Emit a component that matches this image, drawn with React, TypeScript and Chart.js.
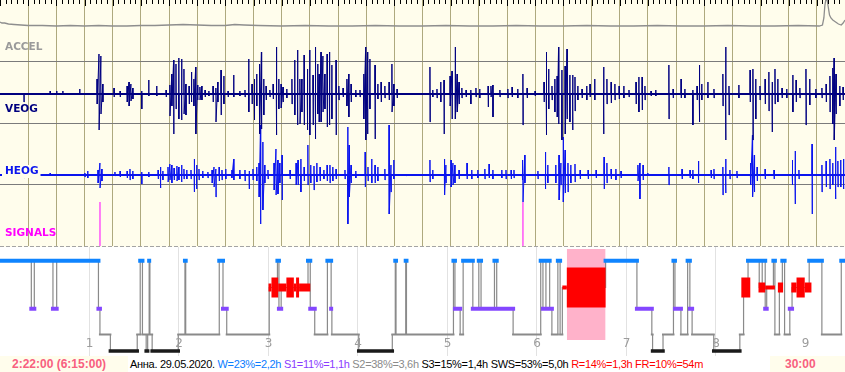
import React, { useEffect, useRef } from "react";
import { Chart, registerables } from "chart.js";

Chart.register(...registerables);

// ---------------- signal window (30 min, seconds) ----------------
const WINDOW_SEC = 1800;
const channelNames = ["ACCEL", "VEOG", "HEOG", "SIGNALS"];

// ACCEL trace: [second, amplitude]
const accelTrace: [number, number][] = [
  [0, 4], [4, 3], [10, 3], [18, 2], [30, 1.5], [45, 1], [60, 0.5], [90, 0.5], [120, 0], [150, 0.5],
  [180, 0], [210, 0.5], [240, 0], [270, 0], [300, 0.5], [330, 0.5], [360, 1], [390, 1.5], [420, 1],
  [450, 0.5], [480, 0.5], [500, 1.5], [520, 1], [550, 0.5], [600, 0], [650, 0.5], [700, 0], [750, 0],
  [800, 0.5], [850, 0], [900, 0], [950, 0.5], [1000, 0], [1050, 0], [1100, 0.5], [1150, 0], [1200, 0],
  [1250, 0.5], [1300, 0], [1350, 0], [1400, 0.5], [1450, 0], [1500, 0], [1550, 0.5], [1600, 0],
  [1650, 0], [1700, 0.5], [1745, 0], [1752, 1], [1755, 8], [1757, 20], [1759, 26], [1762, 26],
  [1764, 20], [1767, 11], [1770, 8], [1774, 6], [1780, 4], [1786, 2], [1792, 1], [1796, 3], [1800, 6],
];

// VEOG spikes: [second, up, down]
const veogSpikes: [number, number, number][] = [
  [51, 1, 8], [107, 3, 1], [121, 3, 0], [134, 3, 0], [170, 5, 1], [207, 15, 10], [211, 40, 36], [215, 38, 20],
  [219, 10, 8], [243, 6, 3], [256, 3, 3], [271, 8, 8], [275, 12, 12], [279, 10, 7], [283, 6, 5], [302, 3, 15],
  [317, 14, 2], [334, 8, 2], [354, 4, 3], [362, 9, 22], [366, 20, 12], [370, 34, 40], [375, 30, 15], [381, 36, 25],
  [387, 35, 26], [392, 25, 20], [396, 10, 21], [403, 8, 10], [408, 22, 8], [413, 15, 12], [417, 27, 40], [421, 9, 6],
  [426, 7, 6], [430, 8, 6], [437, 4, 3], [445, 3, 2], [454, 8, 8], [460, 6, 28], [464, 12, 8], [471, 24, 21],
  [477, 18, 10], [486, 3, 3], [498, 19, 3], [511, 3, 2], [522, 4, 3], [530, 35, 18], [537, 10, 10], [542, 15, 26],
  [547, 20, 12], [553, 30, 40], [557, 42, 35], [562, 15, 21], [567, 8, 6], [575, 4, 3], [582, 10, 5], [589, 47, 41],
  [594, 15, 15], [599, 10, 14], [603, 7, 8], [611, 5, 4], [622, 15, 10], [628, 34, 21], [634, 44, 31], [639, 15, 30],
  [643, 15, 18], [648, 39, 31], [655, 25, 36], [660, 44, 41], [667, 19, 31], [672, 47, 45], [677, 30, 20], [680, 20, 28],
  [684, 42, 28], [688, 38, 18], [692, 20, 15], [697, 40, 33], [702, 42, 31], [707, 29, 25], [716, 34, 41], [722, 8, 6],
  [731, 6, 3], [739, 15, 12], [743, 20, 23], [748, 10, 8], [758, 4, 3], [767, 4, 3], [775, 20, 25], [779, 47, 46],
  [783, 42, 40], [788, 35, 15], [799, 29, 45], [805, 10, 5], [812, 12, 8], [820, 8, 4], [829, 12, 6], [835, 30, 18],
  [839, 10, 12], [846, 5, 4], [916, 27, 28], [922, 4, 3], [931, 5, 4], [939, 12, 8], [946, 14, 40], [959, 18, 12],
  [963, 23, 25], [970, 47, 25], [974, 20, 18], [978, 12, 10], [984, 6, 4], [993, 4, 3], [1003, 4, 10], [1014, 6, 3],
  [1022, 5, 4], [1040, 8, 13], [1046, 8, 3], [1050, 9, 23], [1065, 4, 3], [1082, 5, 4], [1091, 7, 3], [1103, 5, 4],
  [1114, 20, 31], [1123, 6, 4], [1140, 3, 2], [1159, 12, 8], [1164, 42, 41], [1169, 25, 15], [1176, 8, 6], [1182, 15, 18],
  [1187, 18, 23], [1190, 47, 30], [1197, 24, 46], [1204, 28, 40], [1208, 45, 25], [1214, 19, 28], [1220, 19, 36],
  [1225, 17, 17], [1231, 8, 6], [1240, 5, 4], [1250, 8, 6], [1257, 10, 3], [1267, 15, 6], [1286, 27, 40], [1293, 15, 10],
  [1302, 12, 9], [1310, 10, 6], [1319, 8, 5], [1329, 8, 4], [1340, 4, 3], [1355, 12, 10], [1361, 17, 18], [1368, 17, 16],
  [1374, 8, 6], [1387, 3, 2], [1397, 4, 2], [1425, 29, 25], [1434, 5, 4], [1451, 15, 4], [1459, 5, 4], [1476, 4, 31],
  [1485, 8, 6], [1490, 29, 28], [1495, 10, 6], [1508, 12, 4], [1521, 5, 4], [1540, 20, 12], [1546, 47, 46], [1553, 8, 21],
  [1574, 9, 4], [1598, 24, 8], [1604, 25, 46], [1610, 15, 25], [1619, 8, 6], [1630, 15, 10], [1638, 22, 17], [1645, 12, 38],
  [1651, 25, 10], [1657, 15, 8], [1666, 6, 4], [1676, 5, 4], [1689, 19, 18], [1696, 14, 8], [1704, 6, 4], [1717, 25, 31],
  [1725, 15, 11], [1738, 5, 4], [1751, 6, 4], [1760, 10, 8], [1768, 18, 18], [1774, 26, 30], [1777, 36, 46], [1781, 20, 20],
  [1789, 8, 12], [1796, 7, 6],
];

// HEOG spikes: [second, up, down]
const heogSpikes: [number, number, number][] = [
  [51, 0, 3], [107, 2, 0], [181, 2, 2], [187, 4, 3], [209, 5, 8], [213, 12, 13], [217, 6, 6], [245, 3, 1], [256, 4, 2],
  [271, 4, 3], [277, 6, 5], [283, 4, 4], [302, 3, 9], [317, 3, 2], [337, 5, 4], [342, 8, 13], [347, 4, 5], [358, 8, 7],
  [362, 11, 5], [366, 10, 8], [371, 7, 5], [377, 9, 6], [381, 8, 5], [387, 10, 7], [392, 6, 4], [398, 5, 4], [407, 5, 4],
  [414, 16, 17], [419, 10, 14], [424, 6, 5], [432, 4, 3], [443, 3, 3], [452, 5, 8], [456, 8, 12], [460, 6, 22], [467, 8, 6],
  [473, 5, 5], [481, 6, 4], [494, 5, 3], [498, 16, 5], [511, 5, 4], [522, 5, 6], [531, 4, 14], [539, 6, 5], [547, 8, 6],
  [552, 12, 22], [555, 50, 49], [560, 33, 35], [564, 10, 8], [571, 5, 4], [584, 12, 15], [588, 26, 20], [592, 15, 19],
  [596, 12, 8], [601, 20, 25], [618, 5, 4], [631, 12, 10], [635, 15, 10], [641, 16, 17], [648, 8, 6], [656, 30, 10],
  [662, 10, 8], [669, 9, 15], [675, 12, 7], [682, 8, 6], [690, 5, 4], [697, 10, 6], [703, 10, 8], [709, 8, 6], [716, 6, 4],
  [735, 5, 4], [741, 48, 49], [744, 30, 22], [748, 10, 8], [758, 4, 3], [778, 23, 12], [784, 8, 6], [792, 16, 8], [799, 10, 8],
  [805, 8, 6], [820, 6, 5], [829, 50, 39], [833, 10, 17], [839, 15, 4], [865, 1, 1], [916, 15, 7], [922, 5, 4], [947, 16, 20],
  [950, 10, 8], [961, 15, 12], [965, 12, 10], [969, 10, 8], [978, 5, 4], [995, 12, 4], [1005, 5, 4], [1018, 5, 3], [1033, 6, 4],
  [1042, 11, 3], [1050, 5, 4], [1069, 5, 3], [1078, 5, 4], [1089, 5, 4], [1095, 5, 3], [1113, 15, 5], [1114, 10, 27],
  [1118, 20, 8], [1146, 4, 4], [1162, 23, 14], [1167, 10, 8], [1184, 10, 8], [1191, 20, 25], [1195, 12, 10], [1200, 38, 27],
  [1204, 25, 18], [1210, 12, 17], [1216, 10, 8], [1225, 11, 7], [1236, 5, 4], [1253, 5, 4], [1270, 5, 3], [1287, 18, 14],
  [1293, 12, 8], [1302, 6, 4], [1312, 6, 5], [1323, 4, 3], [1359, 10, 6], [1363, 12, 24], [1370, 10, 5], [1380, 2, 1],
  [1425, 8, 10], [1453, 6, 4], [1470, 5, 3], [1476, 5, 4], [1488, 14, 8], [1515, 5, 3], [1521, 6, 4], [1540, 8, 20],
  [1546, 16, 18], [1555, 5, 4], [1570, 4, 3], [1599, 12, 10], [1603, 40, 22], [1607, 20, 17], [1613, 8, 6], [1630, 6, 4],
  [1649, 5, 4], [1688, 15, 10], [1694, 24, 29], [1702, 5, 4], [1730, 31, 39], [1751, 10, 17], [1760, 14, 12], [1768, 16, 14],
  [1774, 12, 10], [1780, 28, 24], [1785, 14, 12], [1791, 15, 12], [1797, 16, 14],
];

// SIGNALS event marks: second of each event and its amplitude
const signalEvents: number[] = [213, 1114];
const signalEventAmp = 44;

// ---------------- hypnogram (whole night, minutes) ----------------
const RECORD_MIN = 566.5;
const stageStarts: number[] = [
  0, 21, 23, 35.5, 38, 66, 67, 74, 92, 94, 95.5, 98, 99, 100, 100.5, 102, 119.5, 124, 124.5, 147,
  149.5, 152, 180.5, 186, 187, 188.5, 206.5, 208, 211, 219.5, 222, 222.5, 240.5, 263, 265, 265.5, 272, 272.5, 304, 305,
  308.5, 310.5, 317, 321, 322.5, 331.5, 333, 344, 362.5, 364, 366, 368.5, 370, 374, 375.5, 377, 406, 427, 437, 437.5,
  444.5, 451.5, 452.5, 456.5, 461, 462.5, 464, 478.5, 496, 498.5, 501.5, 509, 511, 513, 514, 518.5, 519.5, 522.5, 524.5, 526,
  529.5, 531, 542.5, 551, 564,
];
const stageCodes: string[] = [
  "W", "S1", "W", "S1", "W", "S1", "S2", "S3", "S2", "W", "S2", "S3", "S2", "W", "S2", "S3", "S2", "W", "S2", "W",
  "S1", "S2", "R", "W", "S1", "R", "W", "S1", "S2", "W", "S1", "S2", "S3", "S2", "W", "S2", "W", "S2", "W", "S1",
  "S2", "W", "S1", "W", "S1", "W", "S1", "S2", "W", "S1", "W", "S1", "S2", "W", "S2", "R", "W", "S1", "S2", "S3",
  "S2", "W", "S1", "S2", "W", "S1", "S2", "S3", "S2", "R", "W", "R", "W", "S1", "R", "W", "S2", "R", "W", "S2",
  "S1", "R", "W", "S2", "W",
];
// REM bursts: [start min, end min, density]
const remBursts: [number, number, number][] = [
  [180, 182, 2], [182, 186.5, 5], [186.5, 192, 2], [192, 197, 5], [197, 198.5, 2], [198.5, 200.5, 5], [200.5, 208, 2],
  [377, 380, 1], [380, 406, 10], [497, 503, 5], [508.5, 513, 2.5], [513, 519.5, 1], [521.5, 525, 2.5],
  [530.5, 534, 2.5], [534, 539.5, 5], [539.5, 544, 2.5],
];
const viewWindow: [number, number] = [380, 406];
const hourTicks: number[] = [1, 2, 3, 4, 5, 6, 7, 8, 9];

// ---------------- status line ----------------
const statusLeft = "2:22:00 (6:15:00)";
const statusRight = "30:00";
const statusParts: [string, string][] = [
  ["Анна. 29.05.2020. ", "#000000"],
  ["W=23%=2,2h ", "#0a7cff"],
  ["S1=11%=1,1h ", "#8a3cff"],
  ["S2=38%=3,6h ", "#8a8a8a"],
  ["S3=15%=1,4h SWS=53%=5,0h ", "#000000"],
  ["R=14%=1,3h FR=10%=54m", "#ff0000"],
];

// ---------------- styling config ----------------
const CREAM = "#fffdec";
const OLIVE = "#aea97e";
const STAGE_Y: Record<string, number> = { W: 1.38, R: 4.05, S1: 6.17, S2: 8.75, S3: 10.4 };
const STAGE_STYLE: Record<string, { color: string; width: number }> = {
  W: { color: "#0f84ff", width: 4 },
  S1: { color: "#8447ff", width: 4 },
  S2: { color: "#8a8a8a", width: 2 },
  S3: { color: "#1a1a1a", width: 3.5 },
};
const LABEL_STYLE = [
  { scale: "yAccel", value: -21, color: "#9a9a9a", box: false },
  { scale: "yVeog", value: -15, color: "#000080", box: false },
  { scale: "yHeog", value: 4, color: "#0a14ee", box: true },
  { scale: "ySig", value: 13, color: "#ff00ff", box: false },
];

// Builds the waveform: isolated spikes return to the baseline, close ones zig-zag into a burst.
function spikeSeries(spikes: [number, number, number][]) {
  const pts: { x: number; y: number | null }[] = [{ x: 0, y: 0 }];
  let prev: number | null = null;
  for (const [t, up, dn] of spikes) {
    if (prev === null || t - prev > 4.5) {
      if (prev !== null) pts.push({ x: prev + 0.5, y: 0 });
      pts.push({ x: t - 0.5, y: 0 });
    }
    pts.push({ x: t - 0.15, y: up }, { x: t + 0.15, y: -dn });
    prev = t;
  }
  if (prev !== null) pts.push({ x: prev + 0.5, y: 0 });
  pts.push({ x: WINDOW_SEC, y: 0 });
  return pts;
}

const topDecor = {
  id: "topDecor",
  afterDatasetsDraw(chart: any) {
    const { ctx, chartArea, scales } = chart;
    ctx.save();
    ctx.font = 'bold 10.5px "DejaVu Sans"';
    ctx.textBaseline = "middle";
    ctx.textAlign = "left";
    channelNames.forEach((name, i) => {
      const st = LABEL_STYLE[i];
      const y = scales[st.scale].getPixelForValue(st.value);
      if (st.box) {
        const w = ctx.measureText(name).width;
        ctx.fillStyle = CREAM;
        ctx.fillRect(2, y - 6, w + 5, 13);
      }
      ctx.fillStyle = st.color;
      ctx.fillText(name, 5, y);
    });
    // time ticks along the top edge (every 12 s, longer each minute)
    const xs = scales.x;
    ctx.fillStyle = "#000";
    for (let s = 0; s <= WINDOW_SEC; s += 12) {
      const px = Math.round(xs.getPixelForValue(s));
      ctx.fillRect(px, 0, 1, s % 60 === 0 ? 6 : 4);
    }
    // dashed separator under the signal panel
    ctx.strokeStyle = "#a4a4a4";
    ctx.lineWidth = 1;
    ctx.setLineDash([4, 2]);
    ctx.beginPath();
    ctx.moveTo(0, chartArea.bottom + 0.5);
    ctx.lineTo(chart.width, chartArea.bottom + 0.5);
    ctx.stroke();
    ctx.restore();
  },
};

const hypDecor = {
  id: "hypDecor",
  afterDatasetsDraw(chart: any) {
    const { ctx, scales } = chart;
    ctx.save();
    ctx.font = '12px "DejaVu Sans"';
    ctx.fillStyle = "#9c9c9c";
    ctx.textAlign = "center";
    ctx.textBaseline = "middle";
    const y = scales.y.getPixelForValue(9.7);
    hourTicks.forEach((h) => {
      ctx.fillText(String(h), scales.x.getPixelForValue(h * 60), y);
    });
    ctx.restore();
  },
};

function topConfig(): any {
  const sigData: { x: number; y: number | null }[] = [];
  signalEvents.forEach((t) => {
    sigData.push({ x: t, y: 0 }, { x: t, y: signalEventAmp }, { x: t, y: null });
  });
  const hidden = (min: number, max: number) => ({ type: "linear", display: false, min, max });
  return {
    type: "line",
    data: {
      datasets: [
        { label: "ACCEL", data: accelTrace.map(([x, y]) => ({ x, y })), yAxisID: "yAccel", borderColor: "#8e8e8e", borderWidth: 1.3 },
        { label: "VEOG-base", data: [{ x: 0, y: 0 }, { x: WINDOW_SEC, y: 0 }], yAxisID: "yVeog", borderColor: "#000080", borderWidth: 2.2 },
        { label: "VEOG", data: spikeSeries(veogSpikes), yAxisID: "yVeog", borderColor: "#000080", borderWidth: 1 },
        { label: "HEOG-base", data: [{ x: 0, y: 0 }, { x: WINDOW_SEC, y: 0 }], yAxisID: "yHeog", borderColor: "#0a14ee", borderWidth: 2.2 },
        { label: "HEOG", data: spikeSeries(heogSpikes), yAxisID: "yHeog", borderColor: "#0a14ee", borderWidth: 1 },
        { label: "SIGNALS", data: sigData, yAxisID: "ySig", borderColor: "#ff00ff", borderWidth: 1 },
      ],
    },
    options: {
      responsive: false,
      animation: false,
      devicePixelRatio: 1,
      events: [],
      layout: { padding: { left: 0, right: 0, top: 0, bottom: 1 } },
      elements: { point: { radius: 0 }, line: { tension: 0, fill: false } },
      plugins: { legend: { display: false }, tooltip: { enabled: false } },
      scales: {
        x: {
          type: "linear", position: "bottom", min: 0, max: WINDOW_SEC,
          ticks: { display: false, stepSize: 60, maxTicksLimit: 1000, autoSkip: false },
          grid: {
            drawTicks: false, lineWidth: 1,
            color: (c: any) => (c.tick && c.tick.value > 0 && c.tick.value < WINDOW_SEC ? OLIVE : "rgba(0,0,0,0)"),
          },
          border: { display: false },
        },
        yFrame: {
          type: "linear", position: "left", min: 0, max: 4,
          ticks: { display: false, stepSize: 1 },
          grid: {
            drawTicks: false, lineWidth: 1,
            color: (c: any) => (c.tick && c.tick.value > 0 && c.tick.value < 4 ? "#7b7b7b" : "rgba(0,0,0,0)"),
          },
          border: { display: false },
        },
        yAccel: hidden(-220, 26),
        yVeog: hidden(-152, 94),
        yHeog: hidden(-71, 175),
        ySig: hidden(0, 246),
      },
    },
    plugins: [topDecor],
  };
}

function hypConfig(): any {
  const ends = stageStarts.slice(1).concat([RECORD_MIN]);
  const levels = stageCodes.map((c) => STAGE_Y[c]);
  const steps = stageStarts.map((s, i) => ({ x: s, y: levels[i] }));
  steps.push({ x: RECORD_MIN, y: levels[levels.length - 1] });

  const stageBars = (code: string) => {
    const pts: { x: number; y: number | null }[] = [];
    stageCodes.forEach((c, i) => {
      if (c !== code) return;
      pts.push({ x: stageStarts[i], y: STAGE_Y[c] }, { x: ends[i], y: STAGE_Y[c] }, { x: ends[i], y: null });
    });
    return pts;
  };

  const remData: { x: number; y: number | null }[] = [];
  const remWidth: number[] = [];
  remBursts.forEach(([s, e, d], i) => {
    const prev = remBursts[i - 1];
    if (prev && prev[1] !== s) {
      remData.push({ x: prev[1], y: null });
      remWidth.push(1);
    }
    remData.push({ x: s, y: STAGE_Y.R });
    remWidth.push(d * 4);
    remData.push({ x: e, y: STAGE_Y.R });
    remWidth.push(1);
  });

  const barSet = (code: string, order: number) => ({
    label: code,
    data: stageBars(code),
    borderColor: STAGE_STYLE[code].color,
    borderWidth: STAGE_STYLE[code].width,
    borderCapStyle: "square",
    order,
  });

  return {
    type: "line",
    data: {
      datasets: [
        {
          label: "window",
          data: [{ x: viewWindow[0], y: 0.2 }, { x: viewWindow[1], y: 0.2 }],
          borderWidth: 0, borderColor: "rgba(0,0,0,0)",
          backgroundColor: "#ffb2ca", fill: { value: 9.3 }, order: 9,
        },
        { label: "transitions", data: steps, stepped: "before", borderColor: "#8a8a8a", borderWidth: 1.2, order: 8 },
        barSet("S2", 7),
        {
          label: "REM", data: remData, borderColor: "#ff0000", borderWidth: 4, borderCapStyle: "butt", order: 6,
          segment: { borderWidth: (c: any) => remWidth[c.p0DataIndex] || 1 },
        },
        barSet("S3", 5),
        barSet("S1", 4),
        barSet("W", 3),
      ],
    },
    options: {
      responsive: false,
      animation: false,
      devicePixelRatio: 1,
      events: [],
      layout: { padding: 0 },
      elements: { point: { radius: 0 }, line: { tension: 0, fill: false } },
      plugins: { legend: { display: false }, tooltip: { enabled: false } },
      scales: {
        x: {
          type: "linear", min: 0, max: RECORD_MIN,
          ticks: { display: false, stepSize: 60, maxTicksLimit: 1000, autoSkip: false },
          grid: {
            drawTicks: false, lineWidth: 1,
            color: (c: any) =>
              c.tick && c.tick.value > 0 && c.tick.value < RECORD_MIN && c.tick.value % 60 === 0 ? "#e2e2e2" : "rgba(0,0,0,0)",
          },
          border: { display: false },
        },
        y: { type: "linear", display: false, min: 0, max: 10.9, reverse: true },
      },
    },
    plugins: [hypDecor],
  };
}

export default function App() {
  const topRef = useRef<HTMLCanvasElement>(null);
  const hypRef = useRef<HTMLCanvasElement>(null);

  useEffect(() => {
    document.body.style.margin = "0";
    const c1 = new Chart(topRef.current as HTMLCanvasElement, topConfig());
    const c2 = new Chart(hypRef.current as HTMLCanvasElement, hypConfig());
    return () => {
      c1.destroy();
      c2.destroy();
    };
  }, []);

  return (
    <div style={{ width: 845, height: 372, overflow: "hidden", background: "#fff" }}>
      <canvas ref={topRef} width={845} height={247} style={{ display: "block", background: CREAM }} />
      <canvas ref={hypRef} width={845} height={109} style={{ display: "block", background: "#fff" }} />
      <div
        style={{
          position: "relative", width: 845, height: 16, display: "flex",
          fontFamily: '"Liberation Sans", Arial, sans-serif', fontSize: 12, lineHeight: "16px", whiteSpace: "pre",
        }}
      >
        <div style={{ width: 128, boxSizing: "border-box", paddingLeft: 12, background: CREAM, color: "#f8607f", fontWeight: "bold" }}>
          {statusLeft}
        </div>
        <div style={{ paddingLeft: 2, fontSize: 11, letterSpacing: "-0.3px" }}>
          {statusParts.map(([t, c], i) => (
            <span key={i} style={{ color: c }}>{t}</span>
          ))}
        </div>
        <div
          style={{
            position: "absolute", left: 770, top: 0, width: 75, height: 16, boxSizing: "border-box",
            paddingLeft: 15, background: CREAM, color: "#f8607f", fontWeight: "bold",
          }}
        >
          {statusRight}
        </div>
      </div>
    </div>
  );
}
